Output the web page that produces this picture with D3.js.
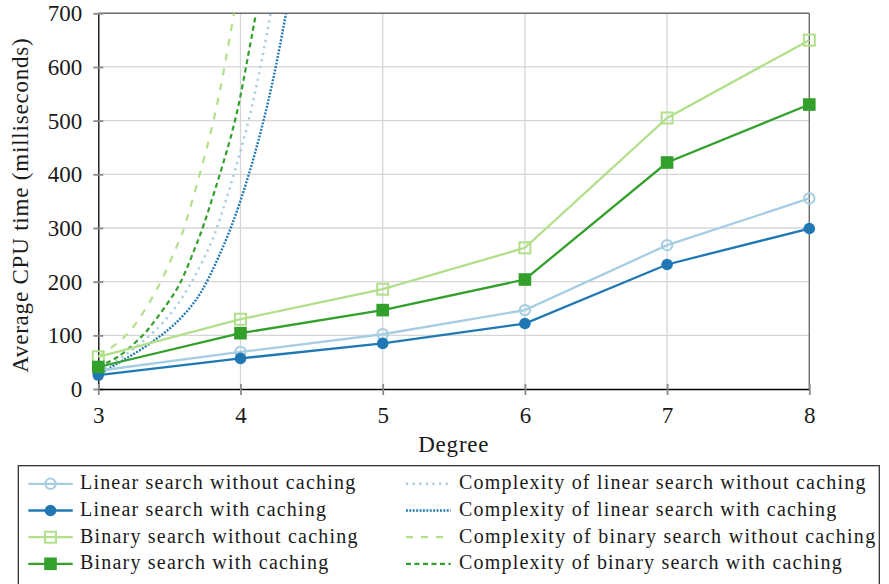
<!DOCTYPE html>
<html><head><meta charset="utf-8">
<script src="https://cdn.jsdelivr.net/npm/d3@7"></script>
<style>
body{margin:0;background:#fff;}
svg text{font-family:"Liberation Serif","DejaVu Serif",serif;fill:#1a1a1a;}
</style></head>
<body><svg id="c" width="889" height="584"></svg>
<script>
// ---- data ----
const degrees = [3, 4, 5, 6, 7, 8];
const yTicks = [0, 100, 200, 300, 400, 500, 600, 700];
const linearNoCache = [34, 69, 102, 147, 268, 355];
const linearCache = [26, 57, 85, 122, 232, 299];
const binaryNoCache = [60, 130, 186, 263, 505, 650];
const binaryCache = [41, 104, 147, 204, 422, 530];
// complexity curves: [degree, value]
const cxLinearNoCache = [[3,35],[3.047,38],[3.165,57],[3.281,82],[3.387,104],[3.527,144],[3.656,197],[3.774,259],[3.837,300],[3.955,400],[4.06,500],[4.142,600],[4.212,700]];
const cxLinearCache = [[3,26],[3.117,45],[3.258,66],[3.399,91],[3.527,117],[3.645,150],[3.731,182],[3.809,224],[3.938,300],[4.062,400],[4.165,500],[4.25,600],[4.32,700]];
const cxBinaryNoCache = [[3,61],[3.105,79],[3.188,97],[3.258,119],[3.328,147],[3.446,200],[3.582,284],[3.605,300],[3.715,400],[3.814,500],[3.889,600],[3.954,700]];
const cxBinaryCache = [[3,42],[3.105,54],[3.176,66],[3.317,100],[3.375,119],[3.446,144],[3.535,178],[3.591,203],[3.692,271],[3.731,296],[3.856,400],[3.968,500],[4.039,600],[4.109,700]];
const seriesNames = ["Linear search without caching","Linear search with caching","Binary search without caching","Binary search with caching"];
const complexityNames = ["Complexity of linear search without caching","Complexity of linear search with caching","Complexity of binary search without caching","Complexity of binary search with caching"];

// ---- styles ----
const colors = ["#a6cee3","#1f78b4","#b2df8a","#33a02c"];
const markers = ["circleOpen","circle","squareOpen","square"];
const dashes = ["2.2 4.4","1.9 1.5","7 8","5 3.5"];
const cWidths = [2.5, 2.4, 2.2, 2.2];

const svg = d3.select("#c");
const L = 98.3, R = 809.3, T = 13.3, B = 389;
const x = d3.scaleLinear().domain([3,8]).range([L,R]);
const y = d3.scaleLinear().domain([0,700]).range([B,T]);

svg.append("defs").append("clipPath").attr("id","clip")
  .append("rect").attr("x",L).attr("y",T).attr("width",R-L).attr("height",B-T);

// grid
const grid = svg.append("g");
grid.selectAll(".hg").data(yTicks.slice(1,-1)).join("line")
  .attr("x1",L).attr("x2",R).attr("y1",d=>y(d)).attr("y2",d=>y(d))
  .attr("stroke","#d6d6d6").attr("stroke-width",1.3);
grid.selectAll(".vg").data(degrees.slice(1,-1)).join("line")
  .attr("y1",T).attr("y2",B).attr("x1",d=>x(d)).attr("x2",d=>x(d))
  .attr("stroke","#d6d6d6").attr("stroke-width",1.3);

// frame top/right
svg.append("line").attr("x1",L).attr("x2",R).attr("y1",T).attr("y2",T).attr("stroke","#6a6a6a").attr("stroke-width",1.4);
svg.append("line").attr("x1",R).attr("x2",R).attr("y1",T).attr("y2",B).attr("stroke","#6a6a6a").attr("stroke-width",1.4);

// axes via d3
const yAxis = d3.axisLeft(y).tickValues(yTicks).tickSize(0).tickPadding(16);
const gy = svg.append("g").attr("transform",`translate(${L},0)`).call(yAxis);
gy.attr("font-family",null);
gy.select(".domain").attr("stroke","#000").attr("stroke-width",1.3);
gy.selectAll(".tick text").attr("font-size",23).attr("fill","#1a1a1a");
gy.selectAll(".tick").append("line").attr("x1",-5).attr("x2",5).attr("stroke","#8a8a8a").attr("stroke-width",1.8);

const xAxis = d3.axisBottom(x).tickValues(degrees).tickFormat(d3.format("d")).tickSize(0).tickPadding(18);
const gx = svg.append("g").attr("transform",`translate(0,${B})`).call(xAxis);
gx.attr("font-family",null);
gx.select(".domain").attr("stroke","#000").attr("stroke-width",1.3);
gx.selectAll(".tick text").attr("font-size",23).attr("fill","#1a1a1a");
gx.selectAll(".tick").append("line").attr("y1",-5).attr("y2",6).attr("stroke","#8a8a8a").attr("stroke-width",1.8);

// axis titles
svg.append("text").attr("x",(L+R)/2).attr("y",452).attr("text-anchor","middle")
  .attr("font-size",23).attr("letter-spacing",0.8).text("Degree");
svg.append("text").attr("transform",`translate(28,${(T+B)/2+4}) rotate(-90)`).attr("text-anchor","middle")
  .attr("font-size",23).attr("letter-spacing",0.8).text("Average CPU time (milliseconds)");

// data lines
const plot = svg.append("g").attr("clip-path","url(#clip)");
const allData = [linearNoCache, linearCache, binaryNoCache, binaryCache];
const line = d3.line().x((d,i)=>x(degrees[i])).y(d=>y(d));
function drawMarker(g, type, cx, cy, col){
  if (type==="circle") g.append("circle").attr("cx",cx).attr("cy",cy).attr("r",5.8).attr("fill",col);
  else if (type==="circleOpen") g.append("circle").attr("cx",cx).attr("cy",cy).attr("r",5.2).attr("fill","none").attr("stroke",col).attr("stroke-width",2);
  else if (type==="square") g.append("rect").attr("x",cx-6.3).attr("y",cy-6.3).attr("width",12.6).attr("height",12.6).attr("fill",col);
  else g.append("rect").attr("x",cx-5.5).attr("y",cy-5.5).attr("width",11).attr("height",11).attr("fill","none").attr("stroke",col).attr("stroke-width",2);
}
allData.forEach((vals,k)=>{
  svg.append("path").datum(vals).attr("d",line).attr("fill","none")
    .attr("stroke",colors[k]).attr("stroke-width",2.3);
  const g = svg.append("g");
  vals.forEach((v,i)=>drawMarker(g, markers[k], x(degrees[i]), y(v), colors[k]));
});

// complexity curves
const cLine = d3.line().x(d=>x(d[0])).y(d=>y(d[1])).curve(d3.curveBasis);
[cxLinearNoCache, cxLinearCache, cxBinaryNoCache, cxBinaryCache].forEach((pts,k)=>{
  plot.append("path").datum(pts).attr("d",cLine).attr("fill","none")
    .attr("stroke",colors[k]).attr("stroke-width",cWidths[k]).attr("stroke-dasharray",dashes[k]);
});

// legend
const lg = svg.append("g");
lg.append("rect").attr("x",18.3).attr("y",465.7).attr("width",861).attr("height",130)
  .attr("fill","#fff").attr("stroke","#222").attr("stroke-width",1.2);
const rowY = [489.3, 516, 542.7, 569.3];
seriesNames.forEach((name,k)=>{
  const ly = rowY[k]-5.5;
  lg.append("line").attr("x1",28.3).attr("x2",72.7).attr("y1",ly).attr("y2",ly).attr("stroke",colors[k]).attr("stroke-width",2.3);
  drawMarker(lg, markers[k], 50.5, ly, colors[k]);
  lg.append("text").attr("x",80).attr("y",rowY[k]).attr("font-size",20).attr("letter-spacing",1.2).text(name);
});
complexityNames.forEach((name,k)=>{
  const ly = rowY[k]-5.5;
  lg.append("line").attr("x1",406).attr("x2",450.7).attr("y1",ly).attr("y2",ly).attr("stroke",colors[k]).attr("stroke-width",cWidths[k]).attr("stroke-dasharray",dashes[k]);
  lg.append("text").attr("x",459).attr("y",rowY[k]).attr("font-size",20).attr("letter-spacing",k===2?1.3:1.2).text(name);
});
</script></body></html>
